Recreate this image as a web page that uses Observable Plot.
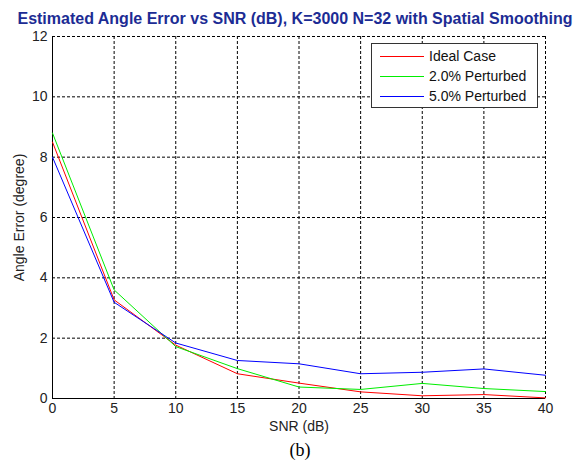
<!DOCTYPE html>
<html>
<head>
<meta charset="utf-8">
<script src="https://cdn.jsdelivr.net/npm/d3@7"></script>
<script src="https://cdn.jsdelivr.net/npm/@observablehq/plot@0.6"></script>
<style>
  body { margin: 0; background: #fff; font-family: "Liberation Sans", Arial, sans-serif; }
  #wrap { position: relative; width: 587px; height: 470px; overflow: hidden; }
  #title { position: absolute; left: 0; width: 590px; top: 10px; text-align: center; font-weight: bold; font-size: 16px; color: #1c2c94; white-space: nowrap; letter-spacing: 0px; }
  #caption { position: absolute; left: 0; width: 600px; top: 440px; text-align: center; font-family: "Liberation Serif", "Times New Roman", serif; font-size: 18px; color: #000; }
  #legend { position: absolute; left: 371px; top: 43px; width: 165px; height: 63px; border: 1px solid #333; background: #fff; font-size: 14px; color: #111; }
  .item { position: absolute; left: 8px; height: 20px; line-height: 20px; white-space: nowrap; }
  .sw { display: inline-block; width: 44px; height: 0; border-top: 1px solid; vertical-align: middle; margin-right: 5px; position: relative; top: -1px; }
</style>
</head>
<body>
<div id="wrap">
  <div id="chart"></div>
  <div id="title">Estimated Angle Error vs SNR (dB), K=3000 N=32 with Spatial Smoothing</div>
  <div id="legend"></div>
  <div id="caption">(b)</div>
</div>
<script>
const snr = [0, 5, 10, 15, 20, 25, 30, 35, 40];
const seriesNames = ["Ideal Case", "2.0% Perturbed", "5.0% Perturbed"];
const seriesColors = ["#ff0000", "#00ee00", "#0000ff"];
const idealCase = [8.5, 3.27, 1.77, 0.82, 0.51, 0.22, 0.09, 0.13, 0.02];
const perturbed2 = [8.8, 3.6, 1.72, 0.99, 0.38, 0.30, 0.50, 0.33, 0.23];
const perturbed5 = [8.0, 3.19, 1.84, 1.26, 1.15, 0.82, 0.87, 0.98, 0.77];
const xTicks = [0, 5, 10, 15, 20, 25, 30, 35, 40];
const yTicks = [0, 2, 4, 6, 8, 10, 12];

const allSeries = [idealCase, perturbed2, perturbed5];
const data = [];
allSeries.forEach((vals, i) => vals.forEach((v, j) => data.push({snr: snr[j], err: v, series: seriesNames[i]})));

const font = "Liberation Sans, Arial, sans-serif";
const chart = Plot.plot({
  width: 587,
  height: 470,
  marginLeft: 52,
  marginRight: 42,
  marginTop: 36,
  marginBottom: 72,
  style: { fontFamily: font, fontSize: "14px", color: "#222", background: "white" },
  x: { domain: [0, 40] },
  y: { domain: [0, 12] },
  color: { domain: seriesNames, range: seriesColors },
  marks: [
    Plot.gridX(xTicks, { stroke: "#000", strokeOpacity: 1, strokeDasharray: "3,2" }),
    Plot.gridY(yTicks, { stroke: "#000", strokeOpacity: 1, strokeDasharray: "3,2" }),
    Plot.ruleX([0], { stroke: "#000" }),
    Plot.ruleY([0], { stroke: "#000" }),
    Plot.axisX(xTicks, { tickSize: 0, tickPadding: 5, label: "SNR (dB)", labelAnchor: "center", labelOffset: 32, labelArrow: "none", fontSize: 14 }),
    Plot.axisY(yTicks, { tickSize: 0, tickPadding: 5, label: "Angle Error (degree)", labelAnchor: "center", labelOffset: 38, labelArrow: "none", fontSize: 14 }),
    Plot.line(data, { x: "snr", y: "err", z: "series", stroke: "series", strokeWidth: 1 })
  ]
});
document.getElementById("chart").appendChild(chart);

const leg = document.getElementById("legend");
seriesNames.forEach((name, i) => {
  const d = document.createElement("div");
  d.className = "item";
  d.style.top = (2 + i * 20) + "px";
  d.innerHTML = `<span class="sw" style="border-color:${seriesColors[i]}"></span>${name}`;
  leg.appendChild(d);
});
</script>
</body>
</html>
